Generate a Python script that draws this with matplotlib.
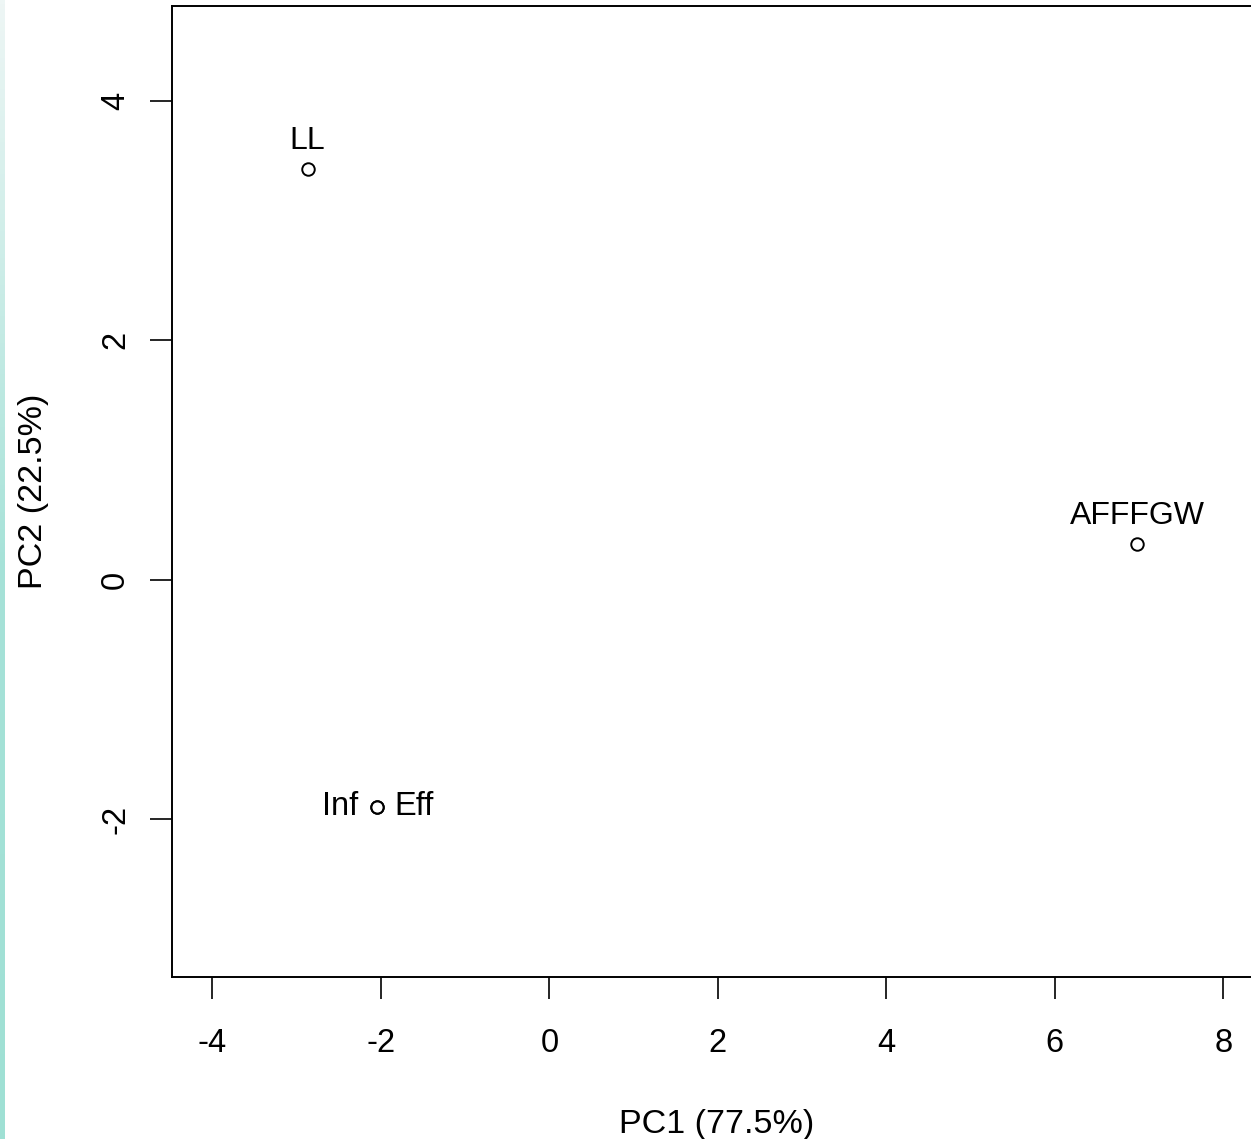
import numpy as np
import matplotlib as mpl
import matplotlib.pyplot as plt

mpl.rcParams['font.family'] = ['Liberation Sans', 'DejaVu Sans']

# PCA scores
names = ['LL', 'AFFFGW', 'Inf', 'Eff']
pc1 = [-2.87, 6.98, -2.05, -2.05]
pc2 = [3.43, 0.30, -1.90, -1.90]
# where the label sits relative to its point (R's pos=)
label_pos = ['above', 'above', 'left', 'right']

xticks = [-4, -2, 0, 2, 4, 6, 8]
yticks = [-2, 0, 2, 4]

W, H = 1251, 1139
fig = plt.figure(figsize=(W / 100, H / 100), dpi=100)

# teal strip on the left edge of the screenshot
strip = fig.add_axes([0, 0, 5 / W, 1])
grad = np.linspace(0, 1, 256).reshape(-1, 1)
cmap = mpl.colors.LinearSegmentedColormap.from_list('s', ['#9fe0d4', '#a6e2d8', '#eef6f5'])
strip.imshow(grad, aspect='auto', cmap=cmap, origin='lower')
strip.axis('off')

ax = fig.add_axes([172 / W, (H - 977) / H, 1090 / W, 971 / H])
ax.plot(pc1, pc2, 'o', mfc='none', mec='black', ms=9, mew=1.4, zorder=3)

for n, x, y, p in zip(names, pc1, pc2, label_pos):
    if p == 'above':
        ax.annotate(n, (x, y), xytext=(0, 9), textcoords='offset points',
                    ha='center', va='bottom', fontsize=23)
    elif p == 'left':
        ax.annotate(n, (x, y), xytext=(-13, 0), textcoords='offset points',
                    ha='right', va='center', fontsize=23.5)
    else:
        ax.annotate(n, (x, y), xytext=(13, 0), textcoords='offset points',
                    ha='left', va='center', fontsize=23.5)

ax.set_xlim(-4.48, 8.46)
ax.set_ylim(-3.32, 4.79)
ax.set_xticks(xticks)
ax.set_yticks(yticks)
ax.set_xticklabels([str(t) for t in xticks])
ax.set_yticklabels([str(t) for t in yticks], rotation=90, va='center')
ax.tick_params(axis='both', direction='out', length=15.5, width=1.2,
               labelsize=23.5)
ax.tick_params(axis='x', pad=21)
ax.tick_params(axis='y', pad=14)
for s in ax.spines.values():
    s.set_linewidth(1.4)

ax.set_xlabel('PC1 (77.5%)', fontsize=24.5, labelpad=36)
ax.set_ylabel('PC2 (22.5%)', fontsize=24.5, labelpad=37)

fig.savefig('out.png', dpi=100)
